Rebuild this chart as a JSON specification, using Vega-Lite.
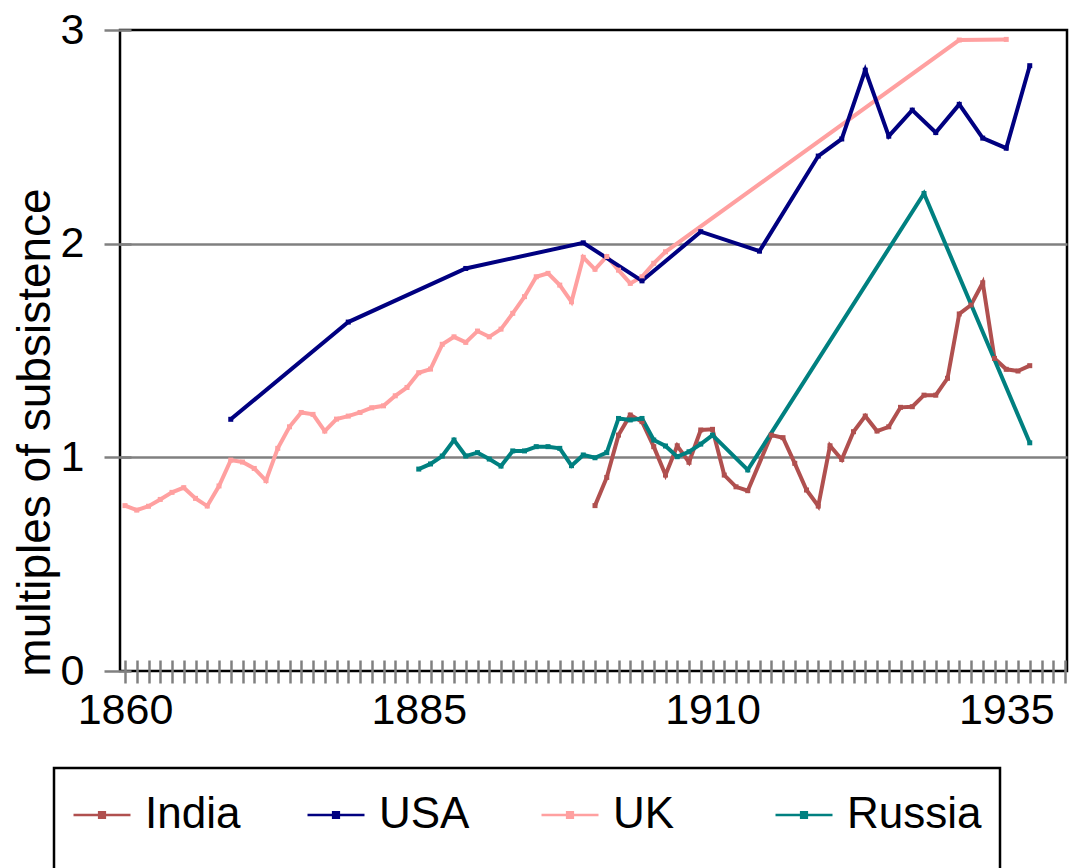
{
  "$schema": "https://vega.github.io/schema/vega-lite/v6.json",
  "width": 947,
  "height": 641,
  "autosize": {"type": "none"},
  "padding": {"left": 120, "top": 30, "right": 4, "bottom": 197},
  "background": "white",
  "config": {"view": {"stroke": "black", "strokeWidth": 2.5}, "font": "Liberation Sans"},
  "data": {"values": [
    {"country": "UK", "year": 1860, "value": 0.774},
    {"country": "UK", "year": 1861, "value": 0.753},
    {"country": "UK", "year": 1862, "value": 0.771},
    {"country": "UK", "year": 1863, "value": 0.803},
    {"country": "UK", "year": 1864, "value": 0.836},
    {"country": "UK", "year": 1865, "value": 0.858},
    {"country": "UK", "year": 1866, "value": 0.808},
    {"country": "UK", "year": 1867, "value": 0.772},
    {"country": "UK", "year": 1868, "value": 0.866},
    {"country": "UK", "year": 1869, "value": 0.987},
    {"country": "UK", "year": 1870, "value": 0.978},
    {"country": "UK", "year": 1871, "value": 0.948},
    {"country": "UK", "year": 1872, "value": 0.891},
    {"country": "UK", "year": 1873, "value": 1.042},
    {"country": "UK", "year": 1874, "value": 1.143},
    {"country": "UK", "year": 1875, "value": 1.21},
    {"country": "UK", "year": 1876, "value": 1.201},
    {"country": "UK", "year": 1877, "value": 1.123},
    {"country": "UK", "year": 1878, "value": 1.179},
    {"country": "UK", "year": 1879, "value": 1.193},
    {"country": "UK", "year": 1880, "value": 1.21},
    {"country": "UK", "year": 1881, "value": 1.232},
    {"country": "UK", "year": 1882, "value": 1.241},
    {"country": "UK", "year": 1883, "value": 1.288},
    {"country": "UK", "year": 1884, "value": 1.327},
    {"country": "UK", "year": 1885, "value": 1.396},
    {"country": "UK", "year": 1886, "value": 1.413},
    {"country": "UK", "year": 1887, "value": 1.529},
    {"country": "UK", "year": 1888, "value": 1.564},
    {"country": "UK", "year": 1889, "value": 1.538},
    {"country": "UK", "year": 1890, "value": 1.591},
    {"country": "UK", "year": 1891, "value": 1.564},
    {"country": "UK", "year": 1892, "value": 1.6},
    {"country": "UK", "year": 1893, "value": 1.674},
    {"country": "UK", "year": 1894, "value": 1.752},
    {"country": "UK", "year": 1895, "value": 1.845},
    {"country": "UK", "year": 1896, "value": 1.861},
    {"country": "UK", "year": 1897, "value": 1.806},
    {"country": "UK", "year": 1898, "value": 1.728},
    {"country": "UK", "year": 1899, "value": 1.936},
    {"country": "UK", "year": 1900, "value": 1.88},
    {"country": "UK", "year": 1901, "value": 1.94},
    {"country": "UK", "year": 1902, "value": 1.876},
    {"country": "UK", "year": 1903, "value": 1.814},
    {"country": "UK", "year": 1904, "value": 1.845},
    {"country": "UK", "year": 1905, "value": 1.908},
    {"country": "UK", "year": 1906, "value": 1.962},
    {"country": "UK", "year": 1931, "value": 2.953},
    {"country": "UK", "year": 1935, "value": 2.956},
    {"country": "USA", "year": 1869, "value": 1.178},
    {"country": "USA", "year": 1879, "value": 1.633},
    {"country": "USA", "year": 1889, "value": 1.884},
    {"country": "USA", "year": 1899, "value": 2.004},
    {"country": "USA", "year": 1904, "value": 1.826},
    {"country": "USA", "year": 1909, "value": 2.056},
    {"country": "USA", "year": 1914, "value": 1.965},
    {"country": "USA", "year": 1919, "value": 2.41},
    {"country": "USA", "year": 1921, "value": 2.49},
    {"country": "USA", "year": 1923, "value": 2.812},
    {"country": "USA", "year": 1925, "value": 2.503},
    {"country": "USA", "year": 1927, "value": 2.625},
    {"country": "USA", "year": 1929, "value": 2.52},
    {"country": "USA", "year": 1931, "value": 2.652},
    {"country": "USA", "year": 1933, "value": 2.494},
    {"country": "USA", "year": 1935, "value": 2.447},
    {"country": "USA", "year": 1937, "value": 2.833},
    {"country": "India", "year": 1900, "value": 0.774},
    {"country": "India", "year": 1901, "value": 0.906},
    {"country": "India", "year": 1902, "value": 1.104},
    {"country": "India", "year": 1903, "value": 1.198},
    {"country": "India", "year": 1904, "value": 1.167},
    {"country": "India", "year": 1905, "value": 1.05},
    {"country": "India", "year": 1906, "value": 0.917},
    {"country": "India", "year": 1907, "value": 1.054},
    {"country": "India", "year": 1908, "value": 0.977},
    {"country": "India", "year": 1909, "value": 1.128},
    {"country": "India", "year": 1910, "value": 1.131},
    {"country": "India", "year": 1911, "value": 0.917},
    {"country": "India", "year": 1912, "value": 0.862},
    {"country": "India", "year": 1913, "value": 0.844},
    {"country": "India", "year": 1915, "value": 1.104},
    {"country": "India", "year": 1916, "value": 1.092},
    {"country": "India", "year": 1917, "value": 0.972},
    {"country": "India", "year": 1918, "value": 0.847},
    {"country": "India", "year": 1919, "value": 0.772},
    {"country": "India", "year": 1920, "value": 1.054},
    {"country": "India", "year": 1921, "value": 0.99},
    {"country": "India", "year": 1922, "value": 1.12},
    {"country": "India", "year": 1923, "value": 1.193},
    {"country": "India", "year": 1924, "value": 1.123},
    {"country": "India", "year": 1925, "value": 1.143},
    {"country": "India", "year": 1926, "value": 1.234},
    {"country": "India", "year": 1927, "value": 1.237},
    {"country": "India", "year": 1928, "value": 1.291},
    {"country": "India", "year": 1929, "value": 1.291},
    {"country": "India", "year": 1930, "value": 1.37},
    {"country": "India", "year": 1931, "value": 1.671},
    {"country": "India", "year": 1932, "value": 1.713},
    {"country": "India", "year": 1933, "value": 1.817},
    {"country": "India", "year": 1934, "value": 1.463},
    {"country": "India", "year": 1935, "value": 1.412},
    {"country": "India", "year": 1936, "value": 1.404},
    {"country": "India", "year": 1937, "value": 1.429},
    {"country": "Russia", "year": 1885, "value": 0.945},
    {"country": "Russia", "year": 1886, "value": 0.969},
    {"country": "Russia", "year": 1887, "value": 1.006},
    {"country": "Russia", "year": 1888, "value": 1.081},
    {"country": "Russia", "year": 1889, "value": 1.006},
    {"country": "Russia", "year": 1890, "value": 1.022},
    {"country": "Russia", "year": 1891, "value": 0.992},
    {"country": "Russia", "year": 1892, "value": 0.959},
    {"country": "Russia", "year": 1893, "value": 1.03},
    {"country": "Russia", "year": 1894, "value": 1.03},
    {"country": "Russia", "year": 1895, "value": 1.05},
    {"country": "Russia", "year": 1896, "value": 1.05},
    {"country": "Russia", "year": 1897, "value": 1.042},
    {"country": "Russia", "year": 1898, "value": 0.961},
    {"country": "Russia", "year": 1899, "value": 1.011},
    {"country": "Russia", "year": 1900, "value": 0.998},
    {"country": "Russia", "year": 1901, "value": 1.022},
    {"country": "Russia", "year": 1902, "value": 1.182},
    {"country": "Russia", "year": 1903, "value": 1.175},
    {"country": "Russia", "year": 1904, "value": 1.182},
    {"country": "Russia", "year": 1905, "value": 1.081},
    {"country": "Russia", "year": 1906, "value": 1.053},
    {"country": "Russia", "year": 1907, "value": 1.003},
    {"country": "Russia", "year": 1908, "value": 1.026},
    {"country": "Russia", "year": 1909, "value": 1.062},
    {"country": "Russia", "year": 1910, "value": 1.104},
    {"country": "Russia", "year": 1913, "value": 0.941},
    {"country": "Russia", "year": 1928, "value": 2.235},
    {"country": "Russia", "year": 1937, "value": 1.068}
  ]},
  "encoding": {
    "x": {
      "field": "year", "type": "quantitative",
      "scale": {"domain": [1859.574, 1940.17], "nice": false, "zero": false},
      "axis": {
        "values": [1860,1861,1862,1863,1864,1865,1866,1867,1868,1869,1870,1871,1872,1873,1874,1875,1876,1877,1878,1879,1880,1881,1882,1883,1884,1885,1886,1887,1888,1889,1890,1891,1892,1893,1894,1895,1896,1897,1898,1899,1900,1901,1902,1903,1904,1905,1906,1907,1908,1909,1910,1911,1912,1913,1914,1915,1916,1917,1918,1919,1920,1921,1922,1923,1924,1925,1926,1927,1928,1929,1930,1931,1932,1933,1934,1935,1936,1937,1938,1939,1940],
        "format": "d",
        "labelExpr": "(datum.value - 1860) % 25 === 0 ? datum.label : ''",
        "offset": -11,
        "tickSize": 23,
        "tickColor": "#808080",
        "tickWidth": 2.5,
        "domain": false,
        "grid": false,
        "labelFontSize": 43,
        "labelColor": "black",
        "labelPadding": 6,
        "labelOverlap": false,
        "labelFlush": false,
        "labelBound": false,
        "title": null
      }
    },
    "y": {
      "field": "value", "type": "quantitative",
      "scale": {"domain": [0, 3], "nice": false},
      "axis": {
        "values": [0, 0.5, 1, 1.5, 2, 2.5, 3],
        "format": "d",
        "labelExpr": "datum.value % 1 === 0 ? datum.label : ''",
        "offset": -11,
        "tickSize": {"condition": {"test": "datum.value % 1 === 0", "value": 27}, "value": 19},
        "tickColor": "#808080",
        "tickWidth": 2.5,
        "domain": false,
        "grid": true,
        "gridColor": "#808080",
        "gridWidth": 2.5,
        "gridOpacity": {"condition": {"test": "datum.value === 1 || datum.value === 2", "value": 1}, "value": 0},
        "labelFontSize": 43,
        "labelColor": "black",
        "labelPadding": 20,
        "labelOverlap": false,
        "labelFlush": false,
        "title": "multiples of subsistence",
        "titleFontSize": 46,
        "titleFontWeight": "normal",
        "titleColor": "black",
        "titleAngle": -90,
        "titleAlign": "center",
        "titleBaseline": "alphabetic",
        "titleX": -82,
        "titleY": 402
      }
    },
    "color": {
      "field": "country", "type": "nominal",
      "scale": {"domain": ["India", "USA", "UK", "Russia"], "range": ["#B0504F", "#000080", "#FFA0A0", "#008080"]},
      "legend": {
        "orient": "none",
        "legendX": -66,
        "legendY": 738,
        "direction": "horizontal",
        "columns": 4,
        "gridAlign": "all",
        "columnPadding": 26,
        "padding": 18,
        "clipHeight": 58,
        "strokeColor": "black",
        "fillColor": "white",
        "title": " ",
        "titleOrient": "bottom",
        "titleFontSize": 10,
        "titlePadding": 2,
        "symbolType": "M-1,0H1M-0.1,-0.1H0.1V0.1H-0.1Z",
        "symbolSize": 3249,
        "symbolStrokeWidth": 2.5,
        "labelFontSize": 44,
        "labelColor": "black",
        "labelOffset": 13,
        "labelLimit": 400,
        "encode": {
          "legend": {"update": {"strokeWidth": {"value": 2.5}}},
          "symbols": {"update": {"fill": {"field": "value", "scale": "color"}, "stroke": {"field": "value", "scale": "color"}, "fillOpacity": {"value": 1}, "strokeOpacity": {"value": 1}}}
        }
      }
    }
  },
  "layer": [
    {"mark": {"type": "line", "strokeWidth": 4}},
    {"mark": {"type": "point", "shape": "square", "filled": true, "size": 25, "opacity": 1}}
  ]
}
